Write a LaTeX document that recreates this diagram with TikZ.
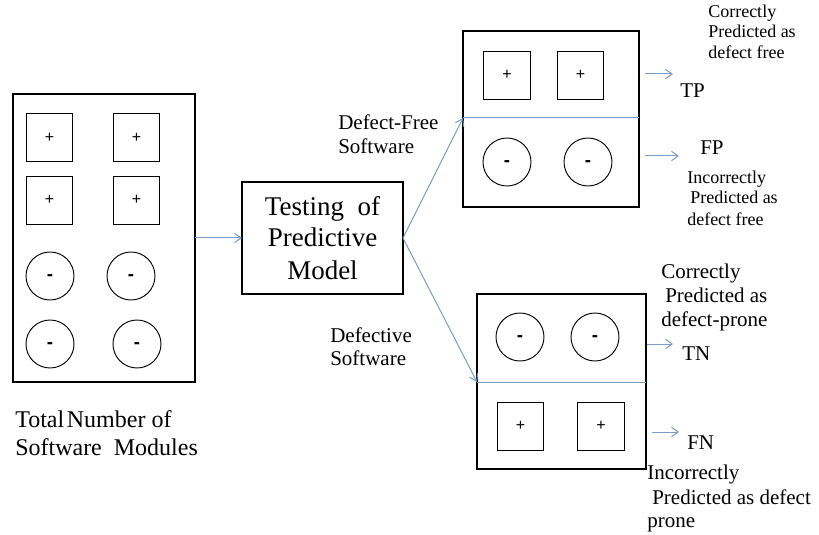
\documentclass[tikz,border=0pt]{standalone}
\usepackage{fontspec}
\setmainfont{Liberation Serif}
\newfontfamily\symfont{Liberation Sans}
\usetikzlibrary{arrows.meta}
\definecolor{flowblue}{RGB}{120,155,200}
\tikzset{
  frame/.style={draw=black, line width=0.8pt, inner sep=0pt, outer sep=0pt, anchor=north west},
  plusbox/.style={draw=black, line width=0.7pt, minimum width=35pt, minimum height=36pt,
                  inner sep=0pt, font=\symfont\fontsize{12}{14}\selectfont},
  minuscirc/.style={draw=black, line width=0.7pt, circle, minimum size=36pt,
                  inner sep=0pt, text height=7.4pt, text depth=0pt,
                  font=\symfont\bfseries\fontsize{14}{16}\selectfont},
  flow/.style={draw=flowblue, line width=0.75pt, -{Straight Barb[length=5pt,width=7pt]}},
  divider/.style={draw=flowblue, line width=0.75pt},
  lbig/.style={anchor=base west, inner sep=0pt, font=\fontsize{18}{22}\selectfont},
  lmid/.style={anchor=base west, inner sep=0pt, font=\fontsize{15.75}{19}\selectfont},
  lsmall/.style={anchor=base west, inner sep=0pt, font=\fontsize{13.5}{16}\selectfont},
  ltest/.style={anchor=base, inner sep=0pt, font=\fontsize{20.25}{24}\selectfont},
}
\begin{document}
\begin{tikzpicture}[x=0.75pt, y=-0.75pt]
\useasboundingbox (0,0) rectangle (819,535);

% all modules
\node[frame, minimum width=136.5pt, minimum height=216pt] (all) at (13,94) {};
\node[plusbox] (a1) at (49.5,137.5) {+};
\node[plusbox] (a2) at (136.5,137.5) {+};
\node[plusbox] (a3) at (49.5,200) {+};
\node[plusbox] (a4) at (136.5,200) {+};
\node[minuscirc] (a5) at (50,276) {-};
\node[minuscirc] (a6) at (131,276) {-};
\node[minuscirc] (a7) at (50,344) {-};
\node[minuscirc] (a8) at (137,344) {-};
\node[lbig] (tot1) at (15,427) {Total\hspace{2pt}Number of};
\node[lbig] (tot2) at (15,455) {Software\ \ Modules};

% predictive model
\node[frame, minimum width=120.75pt, minimum height=84pt] (test) at (242,182) {};
\node[ltest] (t1) at (322.5,215) {Testing\ \ of};
\node[ltest] (t2) at (322.5,247) {Predictive};
\node[ltest] (t3) at (322.5,280) {Model};

% defect-free outcome
\node[frame, minimum width=132pt, minimum height=132pt] (top) at (463,31) {};
\coordinate (topL) at (463,118);
\coordinate (topR) at (639,118);
\node[plusbox] (b1) at (507,75) {+};
\node[plusbox] (b2) at (580.5,75) {+};
\node[minuscirc] (b3) at (507,162) {-};
\node[minuscirc] (b4) at (588,162) {-};

% defective outcome
\node[frame, minimum width=126.75pt, minimum height=131.25pt] (bot) at (477,294) {};
\coordinate (botL) at (477,382);
\coordinate (botR) at (646,382);
\node[minuscirc] (c1) at (520,337) {-};
\node[minuscirc] (c2) at (595,337) {-};
\node[plusbox] (c3) at (520.5,426) {+};
\node[plusbox] (c4) at (601,426) {+};

% connectors
\draw[flow] (all.east) -- (test.west);
\draw[divider] (topL) -- (topR);
\draw[divider] (botL) -- (botR);
\draw[flow] (test.east) -- (topL);
\draw[flow] (test.east) -- (botL);

\coordinate (tpA) at (645,74);  \coordinate (tpB) at (673,74);
\coordinate (fpA) at (645,156); \coordinate (fpB) at (679,156);
\coordinate (tnA) at (647,344); \coordinate (tnB) at (673,344);
\coordinate (fnA) at (652,432); \coordinate (fnB) at (679,432);
\draw[flow] (tpA) -- (tpB);
\draw[flow] (fpA) -- (fpB);
\draw[flow] (tnA) -- (tnB);
\draw[flow] (fnA) -- (fnB);

% branch labels
\node[lmid] (df1) at (338,130) {Defect-Free};
\node[lmid] (df2) at (338,154) {Software};
\node[lmid] (dv1) at (330,342) {Defective};
\node[lmid] (dv2) at (330,365) {Software};

% outcome labels
\node[lmid] (tp) at (680,98) {TP};
\node[lmid] (fp) at (700,155) {FP};
\node[lmid] (tn) at (682,360) {TN};
\node[lmid] (fn) at (687,449) {FN};

\node[lsmall] (tpd1) at (708,18) {Correctly};
\node[lsmall] (tpd2) at (708,38) {Predicted as};
\node[lsmall] (tpd3) at (708,59) {defect free};

\node[lsmall] (fpd1) at (687,184) {Incorrectly};
\node[lsmall] (fpd2) at (690,204) {Predicted as};
\node[lsmall] (fpd3) at (687,225) {defect free};

\node[lmid] (tnd1) at (661,278) {Correctly};
\node[lmid] (tnd2) at (665,302) {Predicted as};
\node[lmid] (tnd3) at (661,326) {defect-prone};

\node[lmid] (fnd1) at (647,479) {Incorrectly};
\node[lmid] (fnd2) at (652,504) {Predicted as defect};
\node[lmid] (fnd3) at (647,527) {prone};
\end{tikzpicture}
\end{document}
